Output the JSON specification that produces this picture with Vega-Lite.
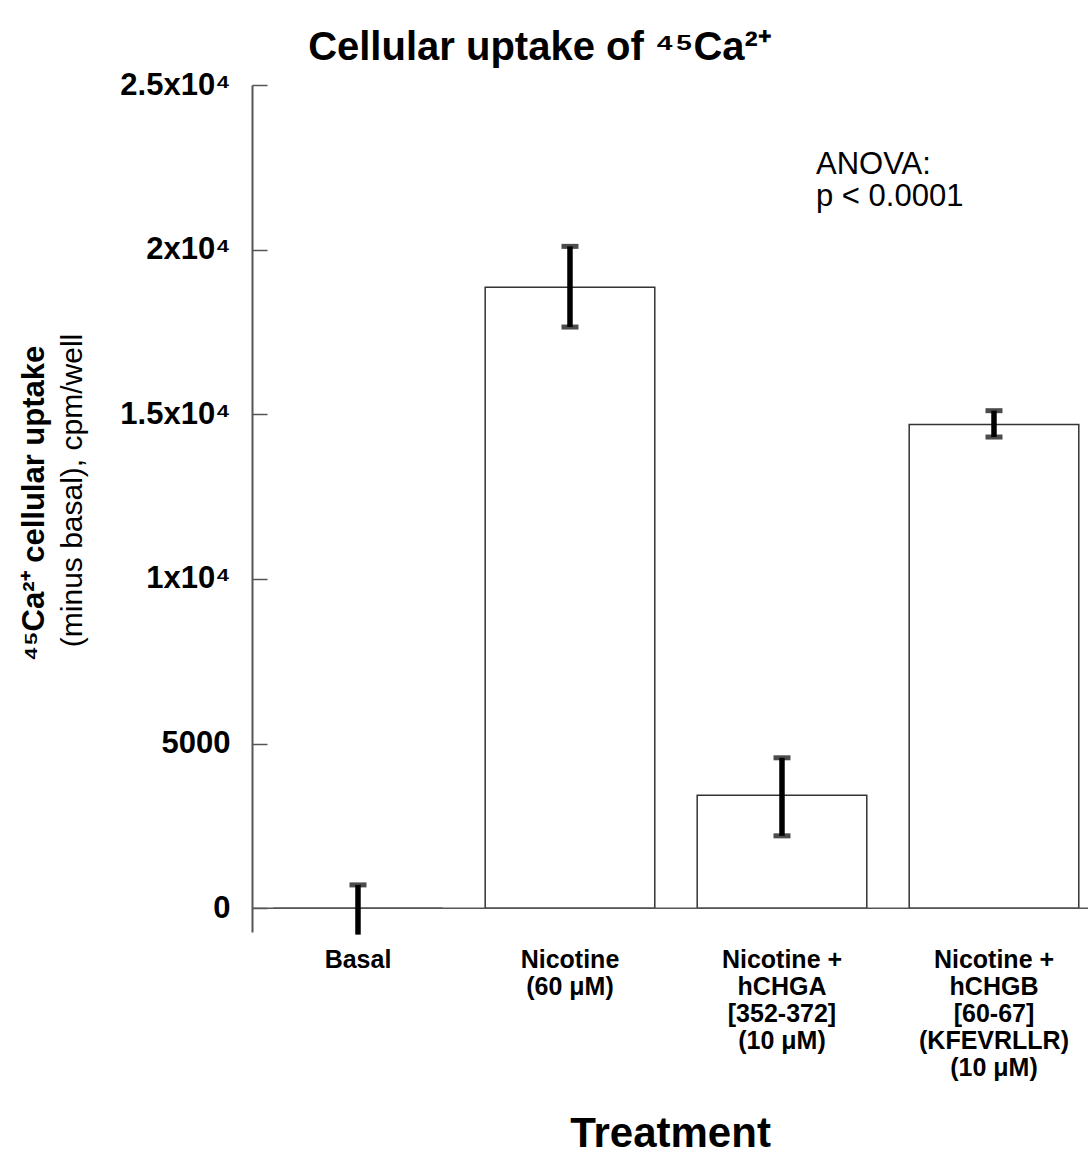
{
  "$schema": "https://vega.github.io/schema/vega-lite/v6.json",
  "autosize": "none",
  "padding": {"left": 252, "top": 85, "right": 0, "bottom": 224},
  "width": 836,
  "height": 847,
  "background": "white",
  "config": {"view": {"stroke": null}, "font": "Liberation Sans"},
  "title": {
    "text": "Cellular uptake of ⁴⁵Ca²⁺",
    "font": "Liberation Sans",
    "fontSize": 40,
    "fontWeight": "bold",
    "color": "black",
    "anchor": "middle",
    "dx": -130,
    "dy": 53,
    "baseline": "alphabetic",
    "offset": 22
  },
  "data": {
    "values": [
      {"treatment": "Basal", "mean": 0, "lo": -800, "hi": 710},
      {"treatment": "Nicotine|(60 μM)", "mean": 18860, "lo": 17650, "hi": 20100},
      {"treatment": "Nicotine +|hCHGA|[352-372]|(10 μM)", "mean": 3430, "lo": 2200, "hi": 4570},
      {"treatment": "Nicotine +|hCHGB|[60-67]|(KFEVRLLR)|(10 μM)", "mean": 14690, "lo": 14310, "hi": 15110}
    ]
  },
  "layer": [
    {
      "mark": {"type": "bar", "fill": "white", "stroke": "#333333", "strokeWidth": 1.5},
      "encoding": {
        "x": {
          "field": "treatment",
          "type": "nominal",
          "sort": null,
          "scale": {"paddingInner": 0.2, "paddingOuter": 0.0717, "align": 0.697},
          "axis": {
            "title": "Treatment",
            "titleFont": "Liberation Sans",
            "titleFontSize": 42,
            "titleFontWeight": "bold",
            "titleColor": "black",
            "titleBaseline": "alphabetic",
            "titleY": 214,
            "labelExpr": "split(datum.value, '|')",
            "labelAngle": 0,
            "labelFont": "Liberation Sans",
            "labelFontWeight": "bold",
            "labelFontSize": 25,
            "labelLineHeight": 27,
            "labelPadding": 15,
            "labelColor": "black",
            "domain": false,
            "ticks": false
          }
        },
        "y": {
          "field": "mean",
          "type": "quantitative",
          "scale": {"domain": [-720, 25000], "nice": false, "zero": false},
          "axis": {
            "orient": "left",
            "values": [0, 5000, 10000, 15000, 20000, 25000],
            "labelExpr": "datum.value >= 10000 ? format(datum.value / 10000, '') + 'x10⁴' : format(datum.value, 'd')",
            "labelFont": "Liberation Sans",
            "labelFontWeight": "bold",
            "labelFontSize": 31,
            "labelColor": "black",
            "labelPadding": 37,
            "tickSize": -15,
            "tickColor": "#555555",
            "tickWidth": 1.5,
            "domainColor": "#555555",
            "domainWidth": 2,
            "grid": false,
            "title": "(minus basal), cpm/well",
            "titleFont": "Liberation Sans",
            "titleFontWeight": "normal",
            "titleFontSize": 30,
            "titleColor": "black",
            "titleAngle": 270,
            "titleBaseline": "middle",
            "titleX": -180,
            "titleY": 405
          }
        },
        "y2": {"datum": 0}
      }
    },
    {
      "data": {"values": [{"level": 0}]},
      "mark": {"type": "rule", "color": "#555555", "strokeWidth": 1.5},
      "encoding": {
        "y": {
          "field": "level",
          "type": "quantitative",
          "scale": {"domain": [-720, 25000], "nice": false, "zero": false},
          "axis": {
            "orient": "left",
            "labels": false,
            "ticks": false,
            "domain": false,
            "grid": false,
            "title": "⁴⁵Ca²⁺ cellular uptake",
            "titleFont": "Liberation Sans",
            "titleFontWeight": "bold",
            "titleFontSize": 31,
            "titleColor": "black",
            "titleAngle": 270,
            "titleBaseline": "middle",
            "titleX": -218,
            "titleY": 418
          }
        }
      }
    },
    {
      "mark": {"type": "rule", "color": "black", "strokeWidth": 5.5},
      "encoding": {
        "x": {"field": "treatment", "type": "nominal", "sort": null},
        "y": {"field": "lo", "type": "quantitative", "scale": {"domain": [-720, 25000], "nice": false, "zero": false}, "axis": null},
        "y2": {"field": "hi"}
      }
    },
    {
      "mark": {"type": "tick", "orient": "horizontal", "size": 17, "thickness": 5, "color": "black", "clip": true},
      "encoding": {
        "x": {"field": "treatment", "type": "nominal", "sort": null},
        "y": {"field": "hi", "type": "quantitative", "scale": {"domain": [-720, 25000], "nice": false, "zero": false}, "axis": null}
      }
    },
    {
      "mark": {"type": "tick", "orient": "horizontal", "size": 17, "thickness": 5, "color": "black", "clip": true},
      "encoding": {
        "x": {"field": "treatment", "type": "nominal", "sort": null},
        "y": {"field": "lo", "type": "quantitative", "scale": {"domain": [-720, 25000], "nice": false, "zero": false}, "axis": null}
      }
    },
    {
      "data": {"values": [{"test": "ANOVA", "p": "< 0.0001"}]},
      "mark": {
        "type": "text",
        "text": ["ANOVA:", "p < 0.0001"],
        "font": "Liberation Sans",
        "fontSize": 31,
        "lineHeight": 32,
        "align": "left",
        "baseline": "alphabetic",
        "color": "black",
        "dx": -178
      },
      "encoding": {
        "x": {"datum": "Nicotine +|hCHGB|[60-67]|(KFEVRLLR)|(10 μM)", "type": "nominal"},
        "y": {"datum": 22300, "type": "quantitative", "scale": {"domain": [-720, 25000], "nice": false, "zero": false}, "axis": null}
      }
    }
  ],
  "resolve": {"axis": {"y": "independent"}}
}
